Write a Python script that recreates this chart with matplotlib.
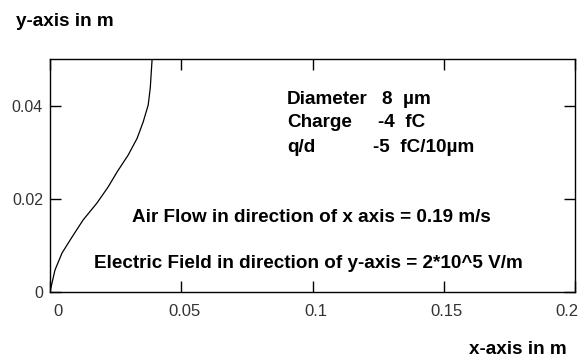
import matplotlib
matplotlib.use("Agg")
import matplotlib.pyplot as plt
from matplotlib.transforms import ScaledTranslation

# trajectory of the particle
x_m = [0.0, 0.00076, 0.0019, 0.00458, 0.0084, 0.0126, 0.0179, 0.0221,
       0.0256, 0.0298, 0.0332, 0.0355, 0.0374, 0.0382, 0.0389]
y_m = [0.0, 0.00193, 0.00472, 0.00837, 0.0118, 0.01545, 0.0191, 0.0225,
       0.0258, 0.0294, 0.0330, 0.0365, 0.0401, 0.0438, 0.05]

xticks = [0, 0.05, 0.1, 0.15, 0.2]
xlabels = ["0", "0.05", "0.1", "0.15", "0.2"]
yticks = [0, 0.02, 0.04]
ylabels = ["0", "0.02", "0.04"]

info_names = ["Diameter", "Charge", "q/d"]
info_vals = ["8  \u00b5m", "-4  fC", "-5  fC/10\u00b5m"]
flow_text = "Air Flow in direction of x axis = 0.19 m/s"
field_text = "Electric Field in direction of y-axis = 2*10^5 V/m"

plt.rcParams['font.family'] = ['Liberation Sans', 'DejaVu Sans']

W, H = 585, 358
fig = plt.figure(figsize=(W / 100, H / 100), dpi=100)
ax = fig.add_axes([50 / W, 1 - 292 / H, 525 / W, 233 / H])

ax.plot(x_m, y_m, color='black', lw=0.9)
ax.set_xlim(0, 0.2)
ax.set_ylim(0, 0.05)
ax.set_xticks(xticks)
ax.set_xticklabels(xlabels)
ax.set_yticks(yticks)
ax.set_yticklabels(ylabels)
ax.tick_params(direction='in', length=8, width=1, top=True, right=True,
               labelcolor='#333333')
ax.tick_params(axis='x', labelsize=12, pad=9)
ax.tick_params(axis='y', labelsize=11.5, pad=5)
for s in ax.spines.values():
    s.set_linewidth(1)
# x tick labels sit a little right of their ticks in the original
shift = ScaledTranslation(3 / 100, 0, fig.dpi_scale_trans)
xl = ax.get_xticklabels()
for lab in xl:
    lab.set_transform(lab.get_transform() + shift)
xl[0].set_ha('left')
xl[-1].set_ha('right')

def px(x, y):
    return x / W, 1 - y / H

fs = 13.6
kw = dict(fontsize=fs, fontweight='bold', va='center')
for i, n in enumerate(info_names):
    fig.text(*px(287, 99 + 24 * i), n, **kw)
fig.text(*px(382, 99), info_vals[0], **kw)
fig.text(*px(378, 123), info_vals[1], **kw)
fig.text(*px(373, 147), info_vals[2], **kw)

fig.text(*px(311, 217), flow_text, ha='center', **kw)
fig.text(*px(308, 264), field_text, ha='center', **kw)

fig.text(*px(16, 22), "y-axis in m", **kw)
fig.text(*px(567, 349), "x-axis in m", ha='right', **kw)

fig.savefig("out.png", dpi=100, facecolor='white')
